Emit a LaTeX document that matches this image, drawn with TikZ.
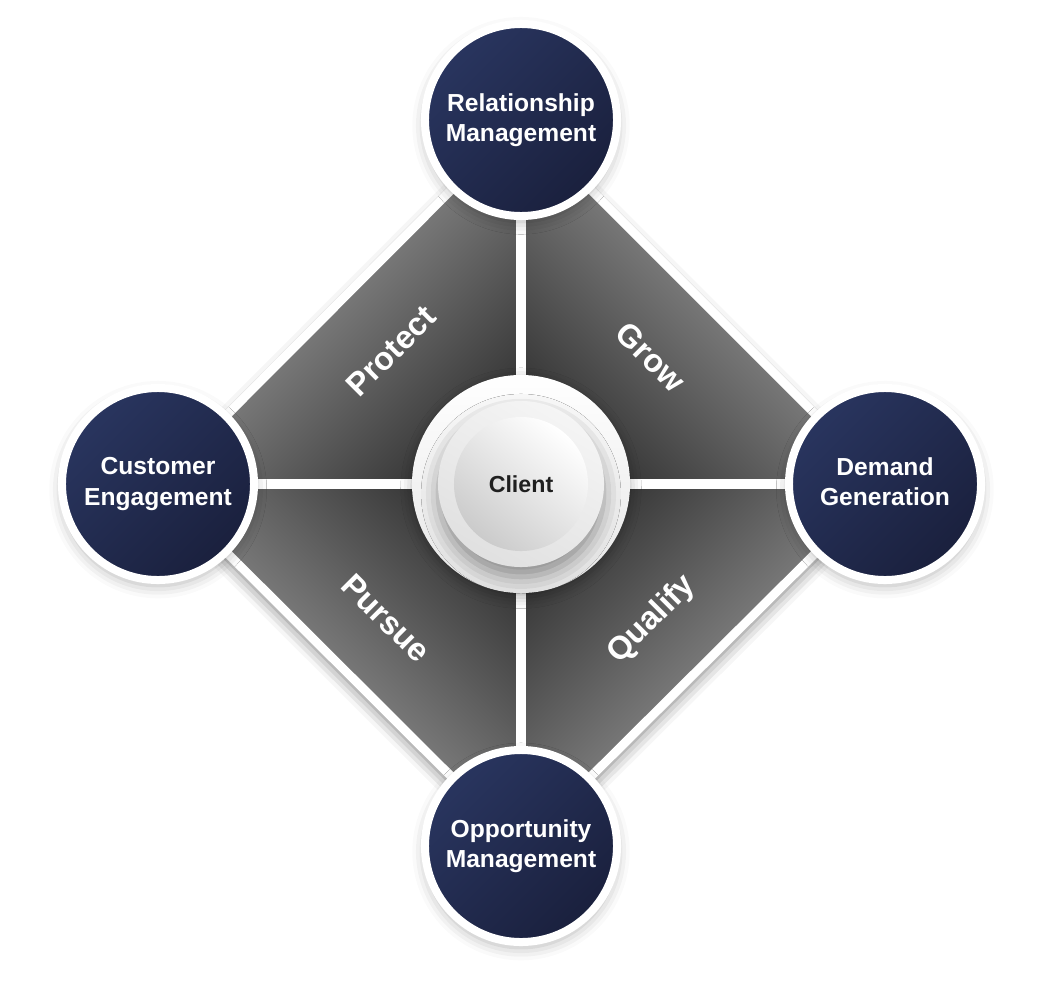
\documentclass[tikz,border=0pt]{standalone}
\usepackage{fontspec}
\setmainfont{Liberation Sans}
\usetikzlibrary{shadows.blur,backgrounds}
\definecolor{navyL}{HTML}{29355F}
\definecolor{navyD}{HTML}{1A203D}
\definecolor{quadL}{HTML}{B8B8B8}
\definecolor{quadD}{HTML}{383838}
\definecolor{hubgray}{HTML}{CBCBCB}

\begin{document}
\begin{tikzpicture}[x=0.025cm, y=-0.025cm,
  stage/.style={circle, draw=white, line width=0.2cm, minimum size=4.8cm,
    top color=navyL, bottom color=navyD, shading angle=45,
    text=white, align=center, font=\fontsize{17.5}{21.5}\selectfont\bfseries,
    blur shadow={shadow xshift=0pt, shadow yshift=-4pt,
      shadow blur radius=9pt, shadow opacity=30}},
  quadlabel/.style={text=white, font=\fontsize{23}{23}\selectfont\bfseries},
  divider/.style={white, line width=0.25cm},
  rim/.style={white, line width=0.22cm, line join=round}]
\useasboundingbox (0,0) rectangle (1043,1000);
% Hub in the middle
\node[circle, minimum size=5.45cm, top color=white, bottom color=white!90!black,
  blur shadow={shadow xshift=0pt, shadow yshift=-3pt,
    shadow blur radius=8pt, shadow opacity=30}] (client) at (521,484) {};
\node[circle, minimum size=4.15cm, top color=white!96!black,
  bottom color=white!88!black, shading angle=-30,
  blur shadow={shadow xshift=0pt, shadow yshift=-7pt,
    shadow blur radius=12pt, shadow opacity=40}] (clientring) at (client) {};
\node[circle, minimum size=3.35cm, top color=white, bottom color=hubgray,
  shading angle=-40, text=black!88, font=\fontsize{16.5}{18}\selectfont\bfseries]
  (clientface) at (client) {Client};
% Outer stages
\node[stage] (relmgmt) at (521,120) {Relationship\\Management};
\node[stage] (demgen) at (885,484) {Demand\\Generation\vphantom{g}};
\node[stage] (oppmgmt) at (521,846) {Opportunity\\Management};
\node[stage] (custeng) at (158,484) {Customer\\Engagement};
\begin{scope}[on background layer]
  % Diamond with soft shadow
  \fill[white, blur shadow={shadow xshift=0pt, shadow yshift=-5pt,
      shadow blur radius=10pt, shadow opacity=55}]
    (relmgmt.center) -- (demgen.center) -- (oppmgmt.center)
    -- (custeng.center) -- cycle;
  % Quadrants, lighter towards the outer edge
  \shade[top color=quadL, bottom color=quadD, shading angle=45]
    (client.center) -- (custeng.center) -- (relmgmt.center) -- cycle;
  \shade[top color=quadL, bottom color=quadD, shading angle=-45]
    (client.center) -- (relmgmt.center) -- (demgen.center) -- cycle;
  \shade[top color=quadL, bottom color=quadD, shading angle=135]
    (client.center) -- (oppmgmt.center) -- (custeng.center) -- cycle;
  \shade[top color=quadL, bottom color=quadD, shading angle=-135]
    (client.center) -- (demgen.center) -- (oppmgmt.center) -- cycle;
  \draw[rim] (relmgmt.center) -- (demgen.center) -- (oppmgmt.center)
    -- (custeng.center) -- cycle;
  % Dividers
  \draw[divider] (client) -- (relmgmt);
  \draw[divider] (client) -- (demgen);
  \draw[divider] (client) -- (oppmgmt);
  \draw[divider] (client) -- (custeng);
\end{scope}
% Quadrant labels
\node[quadlabel, rotate=45] (protect) at (391,351) {Protect};
\node[quadlabel, rotate=-45] (grow) at (651,357) {Grow};
\node[quadlabel, rotate=-45] (pursue) at (386,618) {Pursue};
\node[quadlabel, rotate=45] (qualify) at (652,620) {Qualify};
\end{tikzpicture}
\end{document}
